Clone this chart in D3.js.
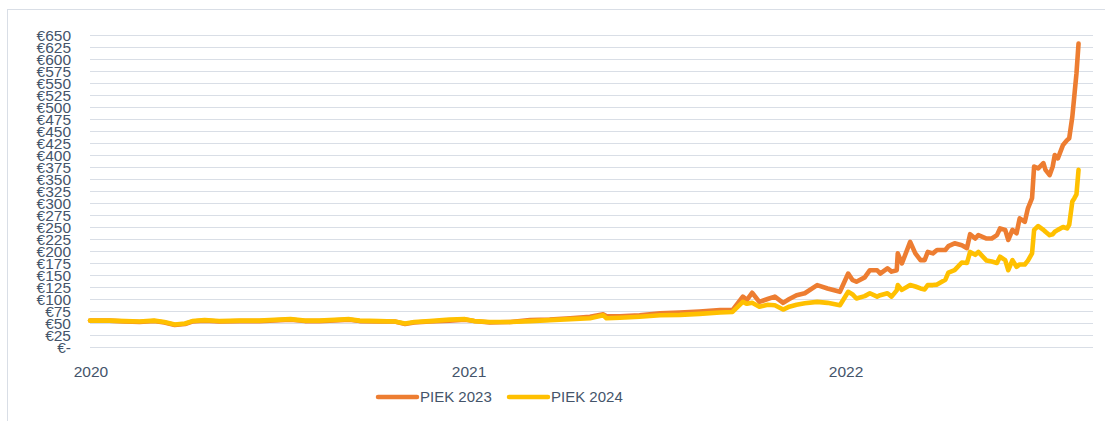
<!DOCTYPE html>
<html>
<head>
<meta charset="utf-8">
<script src="https://cdn.jsdelivr.net/npm/d3@7/dist/d3.min.js"></script>
<style>
  html, body { margin: 0; padding: 0; background: #fff; }
  svg { display: block; }
  text { font-family: "Liberation Sans", Arial, sans-serif; fill: #44546A; }
</style>
</head>
<body>
<svg id="chart" width="1105" height="421"></svg>
<script>
// ---- data ----
const dates = [
  "2020-01-01","2020-01-20","2020-02-04","2020-02-18","2020-03-03","2020-03-13","2020-03-23","2020-04-02",
  "2020-04-09","2020-04-21","2020-05-05","2020-05-25","2020-06-13","2020-07-03","2020-07-13","2020-07-27",
  "2020-08-10","2020-08-30","2020-09-08","2020-09-18","2020-10-07","2020-10-22","2020-11-01","2020-11-10",
  "2020-11-25","2020-12-14","2020-12-29","2021-01-07","2021-01-22","2021-02-11","2021-03-02","2021-03-21",
  "2021-04-10","2021-04-29","2021-05-12","2021-05-15","2021-05-28","2021-06-16","2021-07-06","2021-07-25",
  "2021-08-13","2021-09-02","2021-09-14","2021-09-24","2021-09-28","2021-10-03","2021-10-10","2021-10-18",
  "2021-10-25","2021-11-02","2021-11-08","2021-11-15","2021-11-23","2021-12-05","2021-12-15","2021-12-27",
  "2022-01-04","2022-01-08","2022-01-12","2022-01-20","2022-01-25","2022-02-01","2022-02-04","2022-02-11",
  "2022-02-15","2022-02-20","2022-02-21","2022-02-25","2022-03-05","2022-03-10","2022-03-15","2022-03-19",
  "2022-03-22","2022-03-27","2022-03-31","2022-04-08","2022-04-11","2022-04-17","2022-04-24","2022-04-29",
  "2022-05-02","2022-05-07","2022-05-10","2022-05-18","2022-05-23","2022-05-28","2022-05-31","2022-06-05",
  "2022-06-08","2022-06-12","2022-06-16","2022-06-19","2022-06-24","2022-06-27","2022-07-01","2022-07-03",
  "2022-07-07","2022-07-12","2022-07-14","2022-07-18","2022-07-21","2022-07-23","2022-07-26","2022-07-31",
  "2022-08-04","2022-08-06","2022-08-09","2022-08-11","2022-08-13","2022-08-15"
];
const piek2023 = [
  55,55,53,52,54,51,46,48, 53,55,53,54,54,56,57,54, 54,56,57,54,53,53,48,51,
  53,55,57,54,51,52,56,57, 60,63,68,64,64,66,70,72, 74,77,77,105,98,113,94,100,
  105,92,100,108,112,129,122,115, 153,140,136,145,160,160,153,164, 157,160,195,174,219,195,181,181,
  198,195,202,202,210,216,212,206, 235,226,233,226,226,233,247,244, 223,244,237,268,261,289,310,376,
  372,383,369,358,376,400,393,421, 431,435,480,525,570,632
];
const piek2024 = [
  55,55,54,53,55,52,47,49, 54,56,54,55,55,57,58,55, 55,57,58,55,54,53,49,52,
  54,57,58,54,52,52,54,56, 58,60,66,60,61,63,66,67, 69,72,73,94,90,92,84,88,
  87,78,84,88,91,94,92,87, 115,110,101,106,112,105,108,112, 105,118,129,119,129,126,122,120,
  129,129,130,140,155,160,176,175, 198,192,198,180,178,175,188,181, 160,181,167,172,172,180,195,244,
  252,244,240,233,235,240,244,250, 247,255,303,310,318,369
];
const yTicks = [0,25,50,75,100,125,150,175,200,225,250,275,300,325,350,375,400,425,450,475,500,525,550,575,600,625,650];
const xTickDates = ["2020-01-01","2021-01-01","2022-01-01"];
const seriesNames = ["PIEK 2023","PIEK 2024"];
const seriesColors = ["#ED7D31","#FFC000"];

// ---- chart ----
const parse = d3.timeParse("%Y-%m-%d");
const svg = d3.select("#chart");

// outer chart frame
svg.append("rect")
  .attr("x", 7.5).attr("y", 9.5)
  .attr("width", 1200).attr("height", 500)
  .attr("fill", "none").attr("stroke", "#D9DEE6").attr("stroke-width", 1);

const x = d3.scaleTime()
  .domain([parse("2020-01-01"), parse("2022-08-29")])
  .range([90, 1093]);
const y = d3.scaleLinear().domain([0, 650]).range([347, 35]);

// gridlines
svg.append("g").selectAll("line").data(yTicks).join("line")
  .attr("x1", 90).attr("x2", 1093)
  .attr("y1", d => Math.round(y(d)) + 0.5).attr("y2", d => Math.round(y(d)) + 0.5)
  .attr("stroke", "#D9DEE6").attr("stroke-width", 1.2);

// y labels
const euro = d => d === 0 ? "€-" : "€" + d;
svg.append("g").selectAll("text").data(yTicks).join("text")
  .attr("x", 71).attr("y", d => y(d))
  .attr("dy", "0.36em")
  .attr("text-anchor", "end")
  .style("font-size", "15.5px")
  .text(euro);

// x labels
svg.append("g").selectAll("text").data(xTickDates).join("text")
  .attr("x", d => x(parse(d)) + 1).attr("y", 377)
  .attr("text-anchor", "middle")
  .style("font-size", "15.5px")
  .text(d => d.slice(0, 4));

// lines
const series = [piek2023, piek2024];
const line = d3.line()
  .x((d, i) => x(parse(dates[i])))
  .y(d => y(d));

svg.append("g").selectAll("path").data(series).join("path")
  .attr("d", d => line(d))
  .attr("fill", "none")
  .attr("stroke", (d, i) => seriesColors[i])
  .attr("stroke-width", 4.6)
  .attr("stroke-linejoin", "round")
  .attr("stroke-linecap", "round");

// legend
const legendX = [378, 509];
const lg = svg.append("g").selectAll("g").data(seriesNames).join("g")
  .attr("transform", (d, i) => `translate(${legendX[i]},397)`);
lg.append("line")
  .attr("x1", 0).attr("x2", 39).attr("y1", 0).attr("y2", 0)
  .attr("stroke", (d, i) => seriesColors[i])
  .attr("stroke-width", 4.5).attr("stroke-linecap", "round");
lg.append("text")
  .attr("x", 42).attr("y", 0).attr("dy", "0.36em")
  .style("font-size", "15px")
  .text(d => d);
</script>
</body>
</html>
